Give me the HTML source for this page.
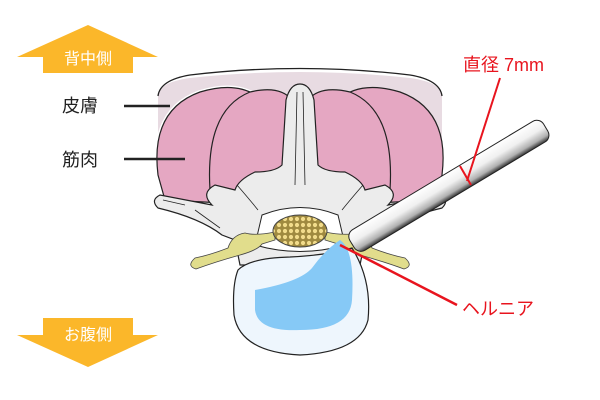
<!DOCTYPE html>
<html><head><meta charset="utf-8"><style>
html,body{margin:0;padding:0;background:#fff;width:600px;height:400px;overflow:hidden}
svg{display:block}
text{font-family:"Liberation Sans","Noto Sans CJK JP",sans-serif}
</style></head><body>
<svg width="600" height="400" viewBox="0 0 600 400" xmlns="http://www.w3.org/2000/svg">
<defs>
<linearGradient id="tube" x1="0" y1="0" x2="0" y2="1">
<stop offset="0" stop-color="#ffffff"/><stop offset="0.45" stop-color="#f0f0f0"/><stop offset="0.8" stop-color="#b0b0b0"/><stop offset="1" stop-color="#333"/>
</linearGradient>
<pattern id="dots" width="6" height="6" patternUnits="userSpaceOnUse">
<rect width="6" height="6" fill="#a08a40"/><circle cx="3" cy="3" r="2.1" fill="#f2dc8c"/>
</pattern>
</defs>
<!-- arrows -->
<polygon points="88,25 158,57 133,57 133,73 43,73 43,57 17,57" fill="#fbb72a"/>
<text x="88" y="64" font-size="16" fill="#fff" text-anchor="middle">背中側</text>
<polygon points="43,318 133,318 133,335 158,335 88,367 17,335 43,335" fill="#fbb72a"/>
<text x="88" y="340" font-size="16" fill="#fff" text-anchor="middle">お腹側</text>
<!-- skin -->
<path d="M158,95 Q160,82 190,78 Q300,66 410,78 Q440,82 442,95 L442,140 L158,140 Z" fill="#e8dbe2"/>
<path d="M158,96 Q160,80 190,75 Q300,62 410,75 Q440,80 442,96" fill="none" stroke="#222" stroke-width="1.3"/>
<!-- muscles -->
<path d="M158,175 Q150,110 200,92 Q240,80 262,100 L262,205 L165,200 Z" fill="#e5a7c2" stroke="#fff" stroke-width="4"/>
<path d="M158,175 Q150,110 200,92 Q240,80 262,100 L262,205 L165,200 Z" fill="#e5a7c2" stroke="#222" stroke-width="1.2"/>
<path d="M442,175 Q450,110 400,92 Q360,80 338,100 L338,205 L435,200 Z" fill="#e5a7c2" stroke="#222" stroke-width="1.2"/>
<path d="M210,190 Q205,110 250,92 Q280,85 292,100 L285,175 L240,195 Z" fill="#e5a7c2" stroke="#222" stroke-width="1.2"/>
<path d="M390,190 Q395,110 350,92 Q320,85 308,100 L315,175 L360,195 Z" fill="#e5a7c2" stroke="#222" stroke-width="1.2"/>
<!-- bone -->
<path d="M300,84 Q290,84 286,100 L282,165 Q275,172 255,172 Q238,180 235,190 L215,185 Q200,193 212,205 L160,195 Q150,200 158,208 Q200,218 222,235 L235,240 L240,265 L360,265 L365,240 L378,235 Q400,218 442,208 Q450,200 440,195 L388,205 Q400,193 385,185 L365,190 Q362,180 345,172 Q325,172 318,165 L314,100 Q310,84 300,84 Z" fill="#ececec" stroke="#222" stroke-width="1.2"/>
<path d="M297,92 L295,185 M303,92 L305,185" stroke="#222" stroke-width="0.8" fill="none"/>
<path d="M237,185 Q250,200 258,210 M363,185 Q350,200 342,210" stroke="#222" stroke-width="0.8" fill="none"/>
<path d="M163,200 L185,205 M195,210 L220,228" stroke="#222" stroke-width="0.8" fill="none"/>
<!-- canal -->
<path d="M262,215 Q300,200 338,215 L345,245 Q300,258 255,245 Z" fill="#fff" stroke="#222" stroke-width="1"/>
<!-- nerves -->
<path d="M275,232 Q255,236 245,233 Q232,235 228,248 Q210,255 195,258 Q186,266 196,269 Q215,262 240,255 Q258,250 262,244 L275,240 Z" fill="#e1dd8c" stroke="#444" stroke-width="0.8"/>
<path d="M325,232 Q345,236 355,233 Q368,235 372,248 Q390,255 405,258 Q414,266 404,269 Q385,262 360,255 Q342,250 338,244 L325,240 Z" fill="#e1dd8c" stroke="#444" stroke-width="0.8"/>
<ellipse cx="300" cy="231" rx="27" ry="16" fill="url(#dots)" stroke="#444" stroke-width="1"/>
<!-- vertebral body -->
<path d="M238,270 Q250,258 290,257 Q330,255 352,248 Q372,280 368,320 Q360,352 300,355 Q240,352 234,315 Q232,285 238,270 Z" fill="#eef6fd" stroke="#222" stroke-width="1.2"/>
<path d="M255,290 Q300,282 312,268 Q325,250 340,240 Q355,250 352,300 Q350,330 300,330 Q258,332 255,310 Z" fill="#86c9f6"/>
<!-- tube -->
<g transform="translate(352,244) rotate(-31)">
<rect x="0" y="-12" width="226" height="24" rx="8" fill="url(#tube)" stroke="#222" stroke-width="1"/>
</g>
<!-- labels -->
<text x="62" y="112" font-size="18" fill="#222">皮膚</text>
<line x1="124" y1="106" x2="170" y2="106" stroke="#222" stroke-width="2.5"/>
<text x="62" y="166" font-size="18" fill="#222">筋肉</text>
<line x1="124" y1="159" x2="185" y2="159" stroke="#222" stroke-width="2.5"/>
<text x="463" y="71" font-size="18" fill="#e8141e">直径 7mm</text>
<line x1="500" y1="78" x2="467" y2="181" stroke="#e8141e" stroke-width="2"/>
<line x1="460" y1="166" x2="471" y2="185" stroke="#e8141e" stroke-width="2"/>
<line x1="340" y1="245" x2="457" y2="305" stroke="#e8141e" stroke-width="2.5"/>
<text x="462" y="315" font-size="18" fill="#e8141e">ヘルニア</text>
</svg>
</body></html>
